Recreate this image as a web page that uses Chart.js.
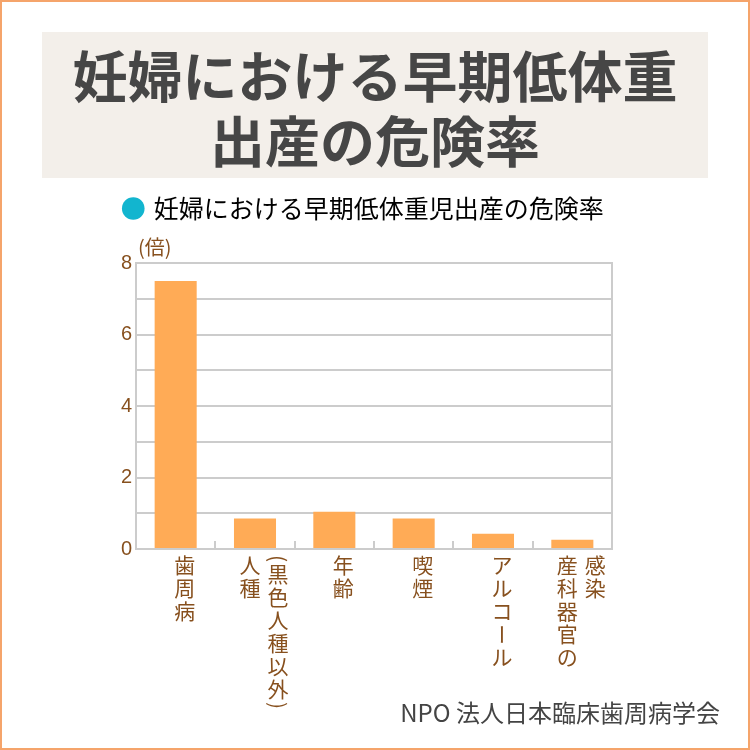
<!DOCTYPE html>
<html lang="ja">
<head>
<meta charset="utf-8">
<script src="https://cdn.jsdelivr.net/npm/chart.js@4"></script>
<style>
  html, body { margin: 0; padding: 0; background: #fff; }
  canvas { display: block; }
</style>
</head>
<body>
<canvas id="chart" width="750" height="750"></canvas>
<script>
// データ
const titleLines = ['妊婦における早期低体重', '出産の危険率'];
const seriesName = '妊婦における早期低体重児出産の危険率';
const categories = [['歯周病'], ['人種', '(黒色人種以外)'], ['年齢'], ['喫煙'], ['アルコール'], ['産科器官の', '感染']];
const riskValues = [7.5, 0.85, 1.04, 0.85, 0.43, 0.26];
const yTickLabels = ['0', '2', '4', '6', '8'];
const unitLabel = '(倍)';
const sourceText = 'NPO 法人日本臨床歯周病学会';

const FONT = "'Noto Sans CJK JP', 'Noto Sans', sans-serif";
const BROWN = '#87501e';
const GRID = '#cccccc';

// 縦書きで1列描画
function drawVertical(ctx, text, x, y, pitch) {
  let cy = y;
  for (const ch of text) {
    const half = ch === '(' || ch === ')';
    const adv = half ? 9 : pitch;
    const c = cy + adv / 2;
    if (half || ch === 'ー') {
      ctx.save();
      ctx.translate(x, c);
      ctx.rotate(Math.PI / 2);
      ctx.fillText(ch, 0, 0);
      ctx.restore();
    } else {
      ctx.fillText(ch, x, c);
    }
    cy += adv;
  }
}

const decor = {
  id: 'decor',
  beforeDraw(chart) {
    const { ctx } = chart;
    ctx.save();
    ctx.fillStyle = '#fff';
    ctx.fillRect(0, 0, chart.width, chart.height);
    ctx.fillStyle = '#f3efea';
    ctx.fillRect(42, 32, 666, 146);
    ctx.fillStyle = '#464646';
    ctx.font = `bold 55px ${FONT}`;
    ctx.textAlign = 'center';
    ctx.textBaseline = 'middle';
    ctx.fillText(titleLines[0], 375, 76);
    ctx.fillText(titleLines[1], 375, 141);
    ctx.restore();
  },
  afterDraw(chart) {
    const { ctx, chartArea: { left, right, bottom, top } } = chart;
    const x = chart.scales.x;
    ctx.save();
    // 右枠と区切り目盛り
    ctx.strokeStyle = GRID;
    ctx.lineWidth = 2;
    ctx.beginPath();
    ctx.moveTo(right, top - 1);
    ctx.lineTo(right, bottom + 1);
    for (let i = 1; i < categories.length; i += 1) {
      const bx = Math.round((x.getPixelForValue(i - 1) + x.getPixelForValue(i)) / 2);
      ctx.moveTo(bx, bottom - 8);
      ctx.lineTo(bx, bottom);
    }
    ctx.stroke();

    // 単位
    ctx.fillStyle = BROWN;
    ctx.font = `20px ${FONT}`;
    ctx.textAlign = 'left';
    ctx.textBaseline = 'middle';
    ctx.fillText(unitLabel, left + 2, top - 16);

    // 縦書きカテゴリ
    ctx.font = `21px ${FONT}`;
    ctx.textAlign = 'center';
    categories.forEach((cols, i) => {
      const cx = x.getPixelForValue(i) + 9;
      const colGap = 28;
      const start = cx - ((cols.length - 1) * colGap) / 2;
      cols.forEach((col, j) => {
        drawVertical(ctx, col, start + j * colGap, bottom + 5, 23);
      });
    });

    // 出典
    ctx.fillStyle = '#444';
    ctx.font = `24px ${FONT}`;
    ctx.textAlign = 'right';
    ctx.fillText(sourceText, 720, 713);

    // 外枠
    ctx.strokeStyle = '#f5a46b';
    ctx.lineWidth = 2;
    ctx.strokeRect(1, 1, chart.width - 2, chart.height - 2);
    ctx.restore();
  },
};

const chart = new Chart(document.getElementById('chart'), {
  type: 'bar',
  data: {
    labels: categories.map((c) => c.join('')),
    datasets: [
      {
        label: seriesName,
        data: riskValues,
        backgroundColor: '#ffab56',
        categoryPercentage: 1,
        barPercentage: 0.53,
      },
    ],
  },
  options: {
    responsive: false,
    animation: false,
    devicePixelRatio: 1,
    layout: {
      padding: { top: 154, left: 117, right: 138, bottom: 0 },
    },
    scales: {
      x: {
        grid: { display: false },
        border: { display: true, color: GRID, width: 2 },
        ticks: { display: false },
        afterFit: (s) => { s.height = 201; },
      },
      // 凡例とグラフの間の余白用
      xTop: {
        type: 'category',
        position: 'top',
        grid: { display: false },
        border: { display: false },
        ticks: { display: false },
        afterFit: (s) => { s.height = 32; },
      },
      y: {
        min: 0,
        max: 8,
        grid: { color: GRID, lineWidth: 2, drawTicks: false },
        border: { display: true, color: GRID, width: 2 },
        ticks: {
          stepSize: 1,
          padding: 4,
          color: BROWN,
          font: { family: "'Liberation Sans Narrow', 'Liberation Sans', sans-serif", size: 20 },
          callback: (v) => (yTickLabels.includes(String(v)) ? String(v) : ''),
        },
        afterFit: (s) => { s.width = 19; },
      },
    },
    plugins: {
      legend: {
        display: true,
        position: 'top',
        labels: {
          padding: 42,
          boxWidth: 16,
          boxHeight: 16,
          usePointStyle: true,
          color: '#555',
          font: { family: FONT, size: 25 },
          generateLabels: () => [{
            text: seriesName,
            fillStyle: '#12b5cf',
            strokeStyle: '#12b5cf',
            lineWidth: 0,
            pointStyle: 'circle',
            hidden: false,
            datasetIndex: 0,
          }],
        },
      },
      tooltip: { enabled: false },
    },
  },
  plugins: [decor],
});
</script>
</body>
</html>
